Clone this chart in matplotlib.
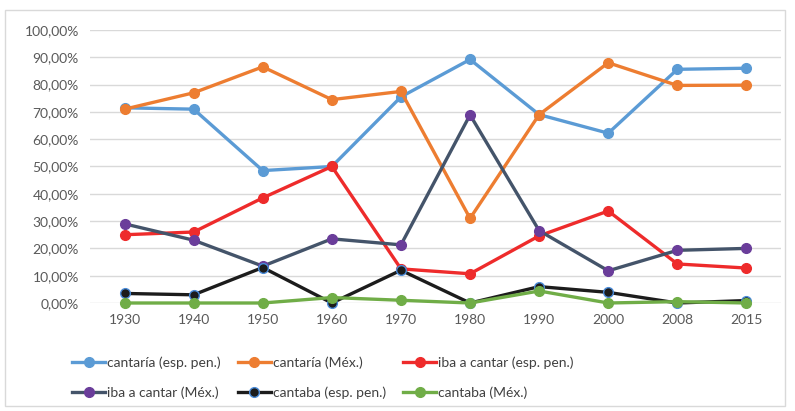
import matplotlib

matplotlib.use("Agg")
import matplotlib.pyplot as plt
from matplotlib.patches import Rectangle
from matplotlib.ticker import FuncFormatter

plt.rcParams["font.family"] = ["Lato", "DejaVu Sans"]

years = ["1930", "1940", "1950", "1960", "1970", "1980", "1990", "2000", "2008", "2015"]
cantaria_esp = [71.5, 71.0, 48.5, 50.0, 75.5, 89.2, 69.0, 62.2, 85.6, 86.0]
cantaria_mex = [71.0, 77.0, 86.5, 74.5, 77.5, 31.0, 69.0, 88.0, 79.7, 79.8]
iba_esp = [25.0, 26.0, 38.5, 50.0, 12.5, 10.7, 24.6, 33.7, 14.3, 12.8]
iba_mex = [29.0, 23.0, 13.5, 23.5, 21.3, 68.9, 26.5, 11.8, 19.3, 20.0]
cantaba_esp = [3.5, 3.0, 13.0, 0.0, 12.0, 0.0, 6.0, 3.9, 0.0, 0.9]
cantaba_mex = [0.0, 0.0, 0.0, 2.0, 1.0, 0.0, 4.4, 0.0, 0.5, 0.0]

series = [
    ("cantaría (esp. pen.)", cantaria_esp, "#5B9BD5", "#5B9BD5", "#5B9BD5"),
    ("cantaría (Méx.)", cantaria_mex, "#ED7D31", "#ED7D31", "#ED7D31"),
    ("iba a cantar (esp. pen.)", iba_esp, "#EE2B2B", "#EE2B2B", "#EE2B2B"),
    ("iba a cantar (Méx.)", iba_mex, "#44546A", "#6A3D9A", "#6A3D9A"),
    ("cantaba (esp. pen.)", cantaba_esp, "#1C1C1C", "#1C1C1C", "#4A8BD8"),
    ("cantaba (Méx.)", cantaba_mex, "#70AD47", "#70AD47", "#70AD47"),
]

fig = plt.figure(figsize=(7.95, 4.11), dpi=100)
fig.patches.append(Rectangle((5 / 795, 5 / 411), 780 / 795, 396 / 411,
                             transform=fig.transFigure, fill=False,
                             ec="#D9D9D9", lw=1.0))
ax = fig.add_axes([90 / 795, 108 / 411, 691 / 795, 273 / 411])

x = list(range(len(years)))
handles = []
for label, vals, lc, mfc, mec in series:
    h, = ax.plot(x, vals, color=lc, lw=2.4, marker="o", ms=7, mfc=mfc, mec=mec,
                 mew=1.0, label=label, clip_on=False, zorder=3)
    handles.append(h)

ax.set_xlim(-0.5, len(years) - 0.5)
ax.set_ylim(0, 100)
ax.set_yticks(range(0, 101, 10))
ax.yaxis.set_major_formatter(FuncFormatter(lambda v, _: f"{v:.2f}%".replace(".", ",")))
ax.set_xticks(x)
ax.set_xticklabels(years)
ax.tick_params(length=0, labelsize=10, colors="#595959", pad=8)
ax.grid(axis="y", color="#D9D9D9", lw=1.0)
ax.set_axisbelow(True)
for s in ax.spines.values():
    s.set_visible(False)

# legend is filled row by row in the reference
order = [0, 3, 1, 4, 2, 5]
leg = fig.legend([handles[i] for i in order], [series[i][0] for i in order],
                 loc="upper left", bbox_to_anchor=(72 / 795, 1 - 356 / 411), ncol=3,
                 frameon=False, fontsize=10, handlelength=2.4, handletextpad=0.15,
                 columnspacing=1.2, labelspacing=1.3, borderaxespad=0, borderpad=0)
for t in leg.get_texts():
    t.set_color("#404040")

fig.savefig("out.png", dpi=100)
